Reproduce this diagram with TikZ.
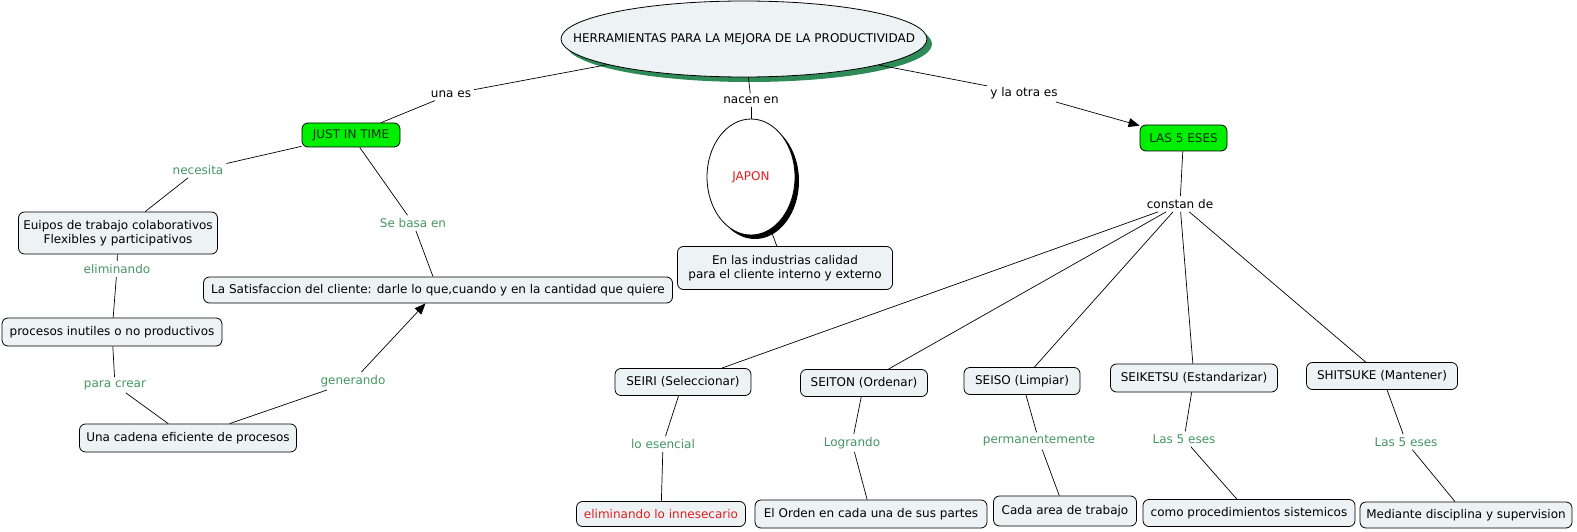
\documentclass[tikz,border=0pt]{standalone}
\usepackage{fontspec}
\setmainfont{DejaVu Sans}
\usetikzlibrary{shapes.geometric,arrows.meta}
\definecolor{boxfill}{RGB}{237,243,245}
\definecolor{lblgreen}{RGB}{70,150,100}
\definecolor{shgreen}{RGB}{46,139,87}
\definecolor{jitgreen}{RGB}{0,238,0}
\definecolor{jittext}{RGB}{10,50,10}
\definecolor{redtxt}{RGB}{225,30,30}
\begin{document}
\begin{tikzpicture}[x=1pt,y=-1pt, font=\fontsize{12}{14.5}\selectfont,
 box/.style={draw, fill=boxfill, rounded corners=6pt, inner sep=0pt, line width=0.8pt, align=center},
 gbox/.style={box, fill=jitgreen, text=jittext},
 lbl/.style={text=lblgreen, inner sep=3pt},
 blbl/.style={text=black, inner sep=3pt},
 conn/.style={line width=0.7pt},
 arr/.style={conn, -{Triangle[length=11pt,width=9pt]}}]
\useasboundingbox (0,0) rectangle (1577,532);
\fill[white] (0,0) rectangle (1577,532);

% main ellipse with green shadow
\fill[shgreen] (749,44) ellipse [x radius=183pt, y radius=38pt];
\node[ellipse, draw, fill=boxfill, minimum width=366pt, minimum height=76pt, inner sep=0pt, line width=0.8pt] (main) at (744,39) {};
\node[inner sep=0pt] (maintext) at (main.center) {HERRAMIENTAS PARA LA MEJORA DE LA PRODUCTIVIDAD};

% JAPON ellipse with black shadow
\fill[black] (755,181) ellipse [x radius=44pt, y radius=58pt];
\node[ellipse, draw, fill=white, minimum width=88pt, minimum height=116pt, inner sep=0pt, line width=0.8pt, text=redtxt] (japon) at (751,177) {JAPON};

% concept nodes
\node[gbox, minimum width=98pt, minimum height=24pt] (jit) at (351,135) {JUST IN TIME};
\node[gbox, minimum width=87pt, minimum height=26pt] (eses) at (1183.5,138) {LAS 5 ESES};
\node[box, minimum width=199pt, minimum height=42pt] (euipos) at (118,233) {Euipos de trabajo colaborativos\\Flexibles y participativos};
\node[box, minimum width=469pt, minimum height=26pt] (satis) at (438,290) {La Satisfaccion del cliente: darle lo que,cuando y en la cantidad que quiere};
\node[box, minimum width=220pt, minimum height=28pt] (procesos) at (112,332) {procesos inutiles o no productivos};
\node[box, minimum width=217pt, minimum height=28pt] (cadena) at (188,438) {Una cadena eficiente de procesos};
\node[box, minimum width=215pt, minimum height=43pt] (indus) at (785,268) {En las industrias calidad\\ para el cliente interno y externo};

\node[box, minimum width=136pt, minimum height=27pt] (seiri) at (683,382) {SEIRI (Seleccionar)};
\node[box, minimum width=127pt, minimum height=27pt] (seiton) at (864,383) {SEITON (Ordenar)};
\node[box, minimum width=116pt, minimum height=27pt] (seiso) at (1022,381) {SEISO (Limpiar)};
\node[box, minimum width=167pt, minimum height=28pt] (seiketsu) at (1194,378) {SEIKETSU (Estandarizar)};
\node[box, minimum width=151pt, minimum height=27pt] (shitsuke) at (1382,376) {SHITSUKE (Mantener)};

\node[box, minimum width=169pt, minimum height=25pt, text=redtxt] (elimlo) at (661,514) {eliminando lo innesecario};
\node[box, minimum width=232pt, minimum height=28pt] (orden) at (871,514) {El Orden en cada una de sus partes};
\node[box, minimum width=143pt, minimum height=30pt] (area) at (1065,511) {Cada area de trabajo};
\node[box, minimum width=212pt, minimum height=27pt] (proced) at (1249,513) {como procedimientos sistemicos};
\node[box, minimum width=212pt, minimum height=26pt] (mediante) at (1466,515) {Mediante disciplina y supervision};

% linking labels
\node[blbl] (unaes) at (451,94) {una es};
\node[blbl] (nacen) at (751,100) {nacen en};
\node[blbl] (otra) at (1024,93) {y la otra es};
\node[blbl] (constan) at (1180,204) {constan de};
\node[lbl] (necesita) at (198,170) {necesita};
\node[lbl] (sebasa) at (413,223) {Se basa en};
\node[lbl] (elim) at (117,269) {eliminando};
\node[lbl] (paracrear) at (115,385) {para crear};
\node[lbl] (generando) at (353,381) {generando};
\node[lbl] (loesencial) at (663,444) {lo esencial};
\node[lbl] (logrando) at (852,443) {Logrando};
\node[lbl] (perma) at (1039,441) {permanentemente};
\node[lbl] (las1) at (1184,439) {Las 5 eses};
\node[lbl] (las2) at (1406,442) {Las 5 eses};

% connectors
\draw[conn] (main) -- (unaes);
\draw[conn] (unaes) -- (jit);
\draw[conn] (main) -- (nacen);
\draw[conn] (nacen) -- (japon);
\draw[conn] (main) -- (otra);
\draw[arr] (otra) -- (eses);
\draw[conn] (japon) -- (indus);
\draw[conn] (jit) -- (necesita);
\draw[conn] (necesita) -- (euipos);
\draw[conn] (jit) -- (sebasa);
\draw[conn] (sebasa) -- (satis);
\draw[conn] (euipos) -- (elim);
\draw[conn] (elim) -- (procesos);
\draw[conn] (procesos) -- (paracrear);
\draw[conn] (paracrear) -- (cadena);
\draw[conn] (cadena) -- (generando);
\draw[arr] (generando) -- (satis);
\draw[conn] (eses) -- (constan);
\draw[conn] (constan) -- (seiri);
\draw[conn] (constan) -- (seiton);
\draw[conn] (constan) -- (seiso);
\draw[conn] (constan) -- (seiketsu);
\draw[conn] (constan) -- (shitsuke);
\draw[conn] (seiri) -- (loesencial);
\draw[conn] (loesencial) -- (elimlo);
\draw[conn] (seiton) -- (logrando);
\draw[conn] (logrando) -- (orden);
\draw[conn] (seiso) -- (perma);
\draw[conn] (perma) -- (area);
\draw[conn] (seiketsu) -- (las1);
\draw[conn] (las1) -- (proced);
\draw[conn] (shitsuke) -- (las2);
\draw[conn] (las2) -- (mediante);
\end{tikzpicture}
\end{document}
